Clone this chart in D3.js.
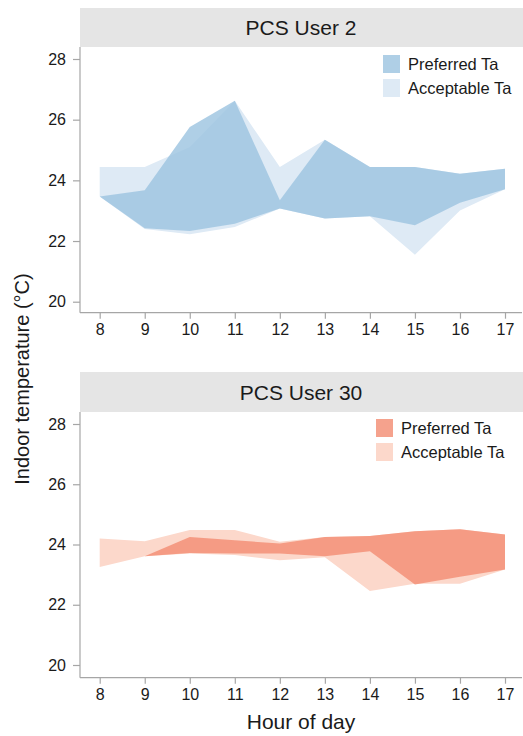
<!DOCTYPE html>
<html>
<head>
<meta charset="utf-8">
<script src="https://cdn.jsdelivr.net/npm/d3@7"></script>
<style>
  body { margin: 0; background: #fff; }
  text { font-family: "Liberation Sans", Arial, sans-serif; fill: #1a1a1a; }
</style>
</head>
<body>
<div class="chart"></div>
<script>
(function () {

  // hours on x axis
  var hours = [8, 9, 10, 11, 12, 13, 14, 15, 16, 17];
  var yTicks = [20, 22, 24, 26, 28];

  // PCS User 2
  var user2PrefLow  = [23.47, 22.42, 22.33, 22.57, 23.07, 22.74, 22.82, 22.52, 23.26, 23.71];
  var user2PrefHigh = [23.47, 23.67, 25.76, 26.62, 23.34, 25.34, 24.44, 24.44, 24.22, 24.38];
  var user2AccLow   = [23.47, 22.40, 22.22, 22.46, 23.07, 22.74, 22.82, 21.55, 23.01, 23.71];
  var user2AccHigh  = [24.44, 24.44, 25.10, 26.62, 24.44, 25.34, 24.44, 24.44, 24.22, 24.38];

  // PCS User 30
  var user30PrefLow  = [23.30, 23.61, 23.72, 23.70, 23.70, 23.61, 23.78, 22.67, 22.93, 23.17];
  var user30PrefHigh = [23.30, 23.61, 24.25, 24.14, 24.03, 24.25, 24.28, 24.44, 24.51, 24.33];
  var user30AccLow   = [23.25, 23.61, 23.70, 23.65, 23.48, 23.58, 22.46, 22.70, 22.70, 23.17];
  var user30AccHigh  = [24.20, 24.11, 24.48, 24.48, 24.09, 24.25, 24.28, 24.44, 24.51, 24.33];

  var legendLabels = ["Preferred Ta", "Acceptable Ta"];

  var width = 523, height = 736;
  var left = 80, right = 522;
  var axisColor = "#a6a6a6";

  var svg = d3.select(".chart")
    .append("svg")
    .attr("width", width)
    .attr("height", height);

  var x = d3.scaleLinear().domain([8, 17]).range([99.7, 505]);

  var panels = [
    { title: "PCS User 2", headTop: 8, headBottom: 47, y28: 59, y20: 301.7, bottom: 312.7,
      pref: [user2PrefLow, user2PrefHigh], acc: [user2AccLow, user2AccHigh],
      prefColor: "#9ec5e0", accColor: "#deeaf5", legX: 383, legY: 55 },
    { title: "PCS User 30", headTop: 372, headBottom: 412, y28: 424, y20: 665, bottom: 677.7,
      pref: [user30PrefLow, user30PrefHigh], acc: [user30AccLow, user30AccHigh],
      prefColor: "#f38d74", accColor: "#fcd8cb", legX: 376, legY: 419 }
  ];

  panels.forEach(function (p) {
    var g = svg.append("g");
    var y = d3.scaleLinear().domain([20, 28]).range([p.y20, p.y28]);

    // header strip
    g.append("rect")
      .attr("x", left).attr("y", p.headTop)
      .attr("width", width - left).attr("height", p.headBottom - p.headTop)
      .attr("fill", "#e5e5e5");
    g.append("text")
      .attr("x", (left + right) / 2).attr("y", (p.headTop + p.headBottom) / 2 + 7.5)
      .attr("text-anchor", "middle")
      .style("font-size", "21px")
      .text(p.title);

    var area = d3.area()
      .x(function (d) { return x(d.h); })
      .y0(function (d) { return y(d.lo); })
      .y1(function (d) { return y(d.hi); });

    function rows(pair) {
      return hours.map(function (h, i) { return { h: h, lo: pair[0][i], hi: pair[1][i] }; });
    }

    g.append("path").datum(rows(p.acc))
      .attr("d", area).attr("fill", p.accColor);
    g.append("path").datum(rows(p.pref))
      .attr("d", area).attr("fill", p.prefColor).attr("fill-opacity", 0.82);

    // y axis
    var yAxis = g.append("g")
      .attr("transform", "translate(" + left + ",0)")
      .call(d3.axisLeft(y).tickValues(yTicks).tickSize(7).tickPadding(7));
    yAxis.select(".domain").attr("d", "M0," + p.headBottom + "V" + p.bottom);

    // x axis
    var xAxis = g.append("g")
      .attr("transform", "translate(0," + p.bottom + ")")
      .call(d3.axisBottom(x).tickValues(hours).tickSize(6).tickPadding(5).tickFormat(d3.format("d")));
    xAxis.select(".domain").attr("d", "M" + left + ",0H" + right);

    [yAxis, xAxis].forEach(function (a) {
      a.selectAll(".domain, line").attr("stroke", axisColor).attr("stroke-width", 1.2);
      a.selectAll("text").style("font-size", "16px").attr("fill", "#1a1a1a")
        .style("font-family", "'Liberation Sans', Arial, sans-serif");
    });

    // legend
    var leg = g.append("g").attr("transform", "translate(" + p.legX + "," + p.legY + ")")
      .selectAll("g").data(legendLabels).enter().append("g")
      .attr("transform", function (d, i) { return "translate(0," + i * 24 + ")"; });
    leg.append("rect")
      .attr("width", 17).attr("height", 18)
      .attr("fill", function (d, i) { return i === 0 ? p.prefColor : p.accColor; })
      .attr("fill-opacity", function (d, i) { return i === 0 ? 0.82 : 1; });
    leg.append("text")
      .attr("x", 25).attr("y", 15)
      .style("font-size", "16.5px")
      .text(function (d) { return d; });
  });

  // axis titles
  svg.append("text")
    .attr("x", (left + right) / 2).attr("y", 729)
    .attr("text-anchor", "middle")
    .style("font-size", "21px")
    .text("Hour of day");

  svg.append("text")
    .attr("transform", "translate(29,379) rotate(-90)")
    .attr("text-anchor", "middle")
    .style("font-size", "20px")
    .text("Indoor temperature (°C)");

})();
</script>
</body>
</html>
